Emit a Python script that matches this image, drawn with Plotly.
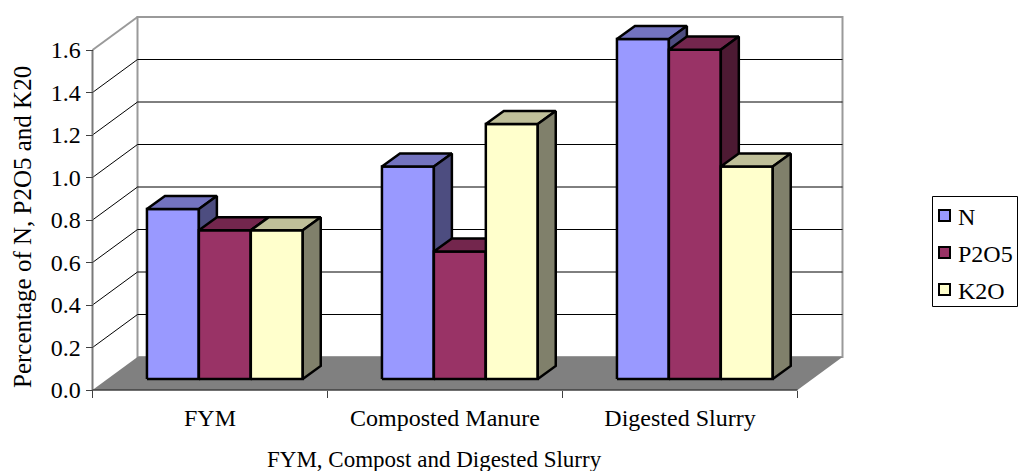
import plotly.graph_objects as go

# ---- data -------------------------------------------------------------
categories = ["FYM", "Composted Manure", "Digested Slurry"]
series_names = ["N", "P2O5", "K2O"]
n_values = [0.8, 1.0, 1.6]
p2o5_values = [0.7, 0.6, 1.55]
k2o_values = [0.7, 1.2, 1.0]
y_tick_values = [0.0, 0.2, 0.4, 0.6, 0.8, 1.0, 1.2, 1.4, 1.6]
y_tick_labels = ["0.0", "0.2", "0.4", "0.6", "0.8", "1.0", "1.2", "1.4", "1.6"]

series_values = [n_values, p2o5_values, k2o_values]

# face colours per series: front, top, side
face_colors = [
    ("#9999FF", "#7373BF", "#4D4D80"),
    ("#993366", "#73264D", "#4D1A33"),
    ("#FFFFCC", "#BFBF99", "#80806B"),
]

# ---- pseudo-3D geometry (in axis units) -------------------------------
DX = 0.1915     # horizontal shift of the full depth
DY = 0.1553     # vertical shift of the full depth
BAR_W = 0.221   # width of one bar
FRONT = 0.33    # depth fraction where the bar fronts sit
DEPTH = 0.40    # bar depth as a fraction of the full depth
Y_MAX = y_tick_values[-1]
N_CAT = len(categories)

# ---- page layout -------------------------------------------------------
W, H = 1020, 471
ML, MR, MT, MB = 88, 172, 12, 73
PX_X = 235.0    # pixels per category
PX_Y = 212.5    # pixels per value unit
X0_PX = 92.5    # pixel column of x = 0
Y0_PX = 390     # pixel row of y = 0

x_range = [-(X0_PX - ML) / PX_X, (W - MR - X0_PX) / PX_X]
y_range = [-((H - MB) - Y0_PX) / PX_Y, (Y0_PX - MT) / PX_Y]
plot_w = W - ML - MR
plot_h = H - MT - MB


def paper_x(px):
    return (px - ML) / plot_w


def paper_y(py):
    return ((H - MB) - py) / plot_h


FONT = "Liberation Serif"
FS = 24

fig = go.Figure()

# ---- walls, floor and grid (layout shapes, below the bars) ------------
shapes = []
# left wall
shapes.append(dict(type="path", xref="x", yref="y", layer="below",
                   path=f"M0,0 L{DX},{DY} L{DX},{Y_MAX + DY} L0,{Y_MAX} Z",
                   fillcolor="white", line=dict(width=0)))
# back wall
shapes.append(dict(type="rect", xref="x", yref="y", layer="below",
                   x0=DX, x1=N_CAT + DX, y0=DY, y1=Y_MAX + DY,
                   fillcolor="white", line=dict(color="#9A9A9A", width=2)))
# gridlines: back wall horizontals + left wall diagonals
for v in y_tick_values[1:-1]:
    shapes.append(dict(type="line", xref="x", yref="y", layer="below",
                       x0=DX, x1=N_CAT + DX, y0=v + DY, y1=v + DY,
                       line=dict(color="#000000", width=1)))
    shapes.append(dict(type="line", xref="x", yref="y", layer="below",
                       x0=0, x1=DX, y0=v, y1=v + DY,
                       line=dict(color="#000000", width=1)))
# top edge of left wall
shapes.append(dict(type="line", xref="x", yref="y", layer="below",
                   x0=0, x1=DX, y0=Y_MAX, y1=Y_MAX + DY,
                   line=dict(color="#9A9A9A", width=2)))
# floor
shapes.append(dict(type="path", xref="x", yref="y", layer="below",
                   path=f"M0,0 L{N_CAT},0 L{N_CAT + DX},{DY} L{DX},{DY} Z",
                   fillcolor="#808080", line=dict(width=0)))
# front axis lines
shapes.append(dict(type="line", xref="x", yref="y", layer="below",
                   x0=0, x1=0, y0=0, y1=Y_MAX,
                   line=dict(color="#7A7A7A", width=2)))
shapes.append(dict(type="line", xref="x", yref="y", layer="below",
                   x0=0, x1=N_CAT, y0=0, y1=0,
                   line=dict(color="#404040", width=1.5)))

# ---- legend box (drawn in page coordinates) ---------------------------
LEG_L, LEG_R, LEG_T, LEG_B = 932.5, 1017.5, 196.5, 306.5
LEG_ROW0, LEG_ROW_GAP = 215.5, 37.0
shapes.append(dict(type="rect", xref="paper", yref="paper",
                   x0=paper_x(LEG_L), x1=paper_x(LEG_R),
                   y0=paper_y(LEG_B), y1=paper_y(LEG_T),
                   fillcolor="white", line=dict(color="#000000", width=1)))
legend_texts = []
for si, name in enumerate(series_names):
    cy = LEG_ROW0 + si * LEG_ROW_GAP
    shapes.append(dict(type="rect", xref="paper", yref="paper",
                       x0=paper_x(939), x1=paper_x(950),
                       y0=paper_y(cy + 5.5), y1=paper_y(cy - 5.5),
                       fillcolor=face_colors[si][0],
                       line=dict(color="#000000", width=2)))
    legend_texts.append(dict(text=name, xref="paper", yref="paper",
                             x=paper_x(956), y=paper_y(cy + 1),
                             xanchor="left", yanchor="middle",
                             showarrow=False,
                             font=dict(family=FONT, size=FS, color="#000000")))

# ---- bars: front, top and side faces drawn back-to-front --------------
base = FRONT * DY
ddx = DEPTH * DX
ddy = DEPTH * DY
n_series = len(series_values)
for ci in range(N_CAT):
    for si in range(n_series):
        v = series_values[si][ci]
        front, top, side = face_colors[si]
        x0 = ci + 0.5 - n_series * BAR_W / 2 + si * BAR_W + FRONT * DX
        x1 = x0 + BAR_W
        t = base + v
        faces = [
            (front, [x0, x1, x1, x0, x0], [base, base, t, t, base]),
            (top, [x0, x1, x1 + ddx, x0 + ddx, x0], [t, t, t + ddy, t + ddy, t]),
            (side, [x1, x1 + ddx, x1 + ddx, x1, x1],
             [base, base + ddy, t + ddy, t, base]),
        ]
        for color, xs, ys in faces:
            fig.add_trace(go.Scatter(
                x=xs, y=ys, mode="lines", fill="toself", fillcolor=color,
                line=dict(color="#000000", width=2.5), hoverinfo="skip",
                name=series_names[si], showlegend=False))

# ---- axes ------------------------------------------------------------
fig.update_layout(
    width=W, height=H,
    margin=dict(l=ML, r=MR, t=MT, b=MB, pad=0, autoexpand=False),
    paper_bgcolor="white", plot_bgcolor="rgba(0,0,0,0)",
    font=dict(family=FONT, size=FS, color="#000000"),
    showlegend=False,
    shapes=shapes,
    xaxis=dict(range=x_range, showgrid=False, zeroline=False, showline=False,
               tickmode="array", tickvals=[0.5, 1.5, 2.5], ticktext=categories,
               ticks="", ticklabelstandoff=11, anchor="free",
               position=paper_y(Y0_PX), automargin=False,
               minor=dict(tickmode="array", tickvals=[0, 1, 2, 3],
                          ticks="outside", ticklen=7, tickwidth=1,
                          tickcolor="#404040", showgrid=False),
               tickfont=dict(family=FONT, size=FS, color="#000000")),
    yaxis=dict(range=y_range, showgrid=False, zeroline=False, showline=False,
               tickmode="array", tickvals=y_tick_values, ticktext=y_tick_labels,
               ticks="outside", ticklen=7, tickwidth=1, tickcolor="#404040",
               anchor="free", position=paper_x(X0_PX), automargin=False,
               tickfont=dict(family=FONT, size=FS, color="#000000")),
    annotations=[
        dict(text="Percentage of N, P2O5 and K20", textangle=-90,
             xref="paper", yref="paper", x=paper_x(22), y=paper_y(227),
             xanchor="center", yanchor="middle", showarrow=False,
             font=dict(family=FONT, size=25, color="#000000")),
        dict(text="FYM, Compost and Digested Slurry",
             xref="paper", yref="paper", x=paper_x(434), y=paper_y(460),
             xanchor="center", yanchor="middle", showarrow=False,
             font=dict(family=FONT, size=23, color="#000000")),
    ] + legend_texts,
)

fig.write_html("out.html")
